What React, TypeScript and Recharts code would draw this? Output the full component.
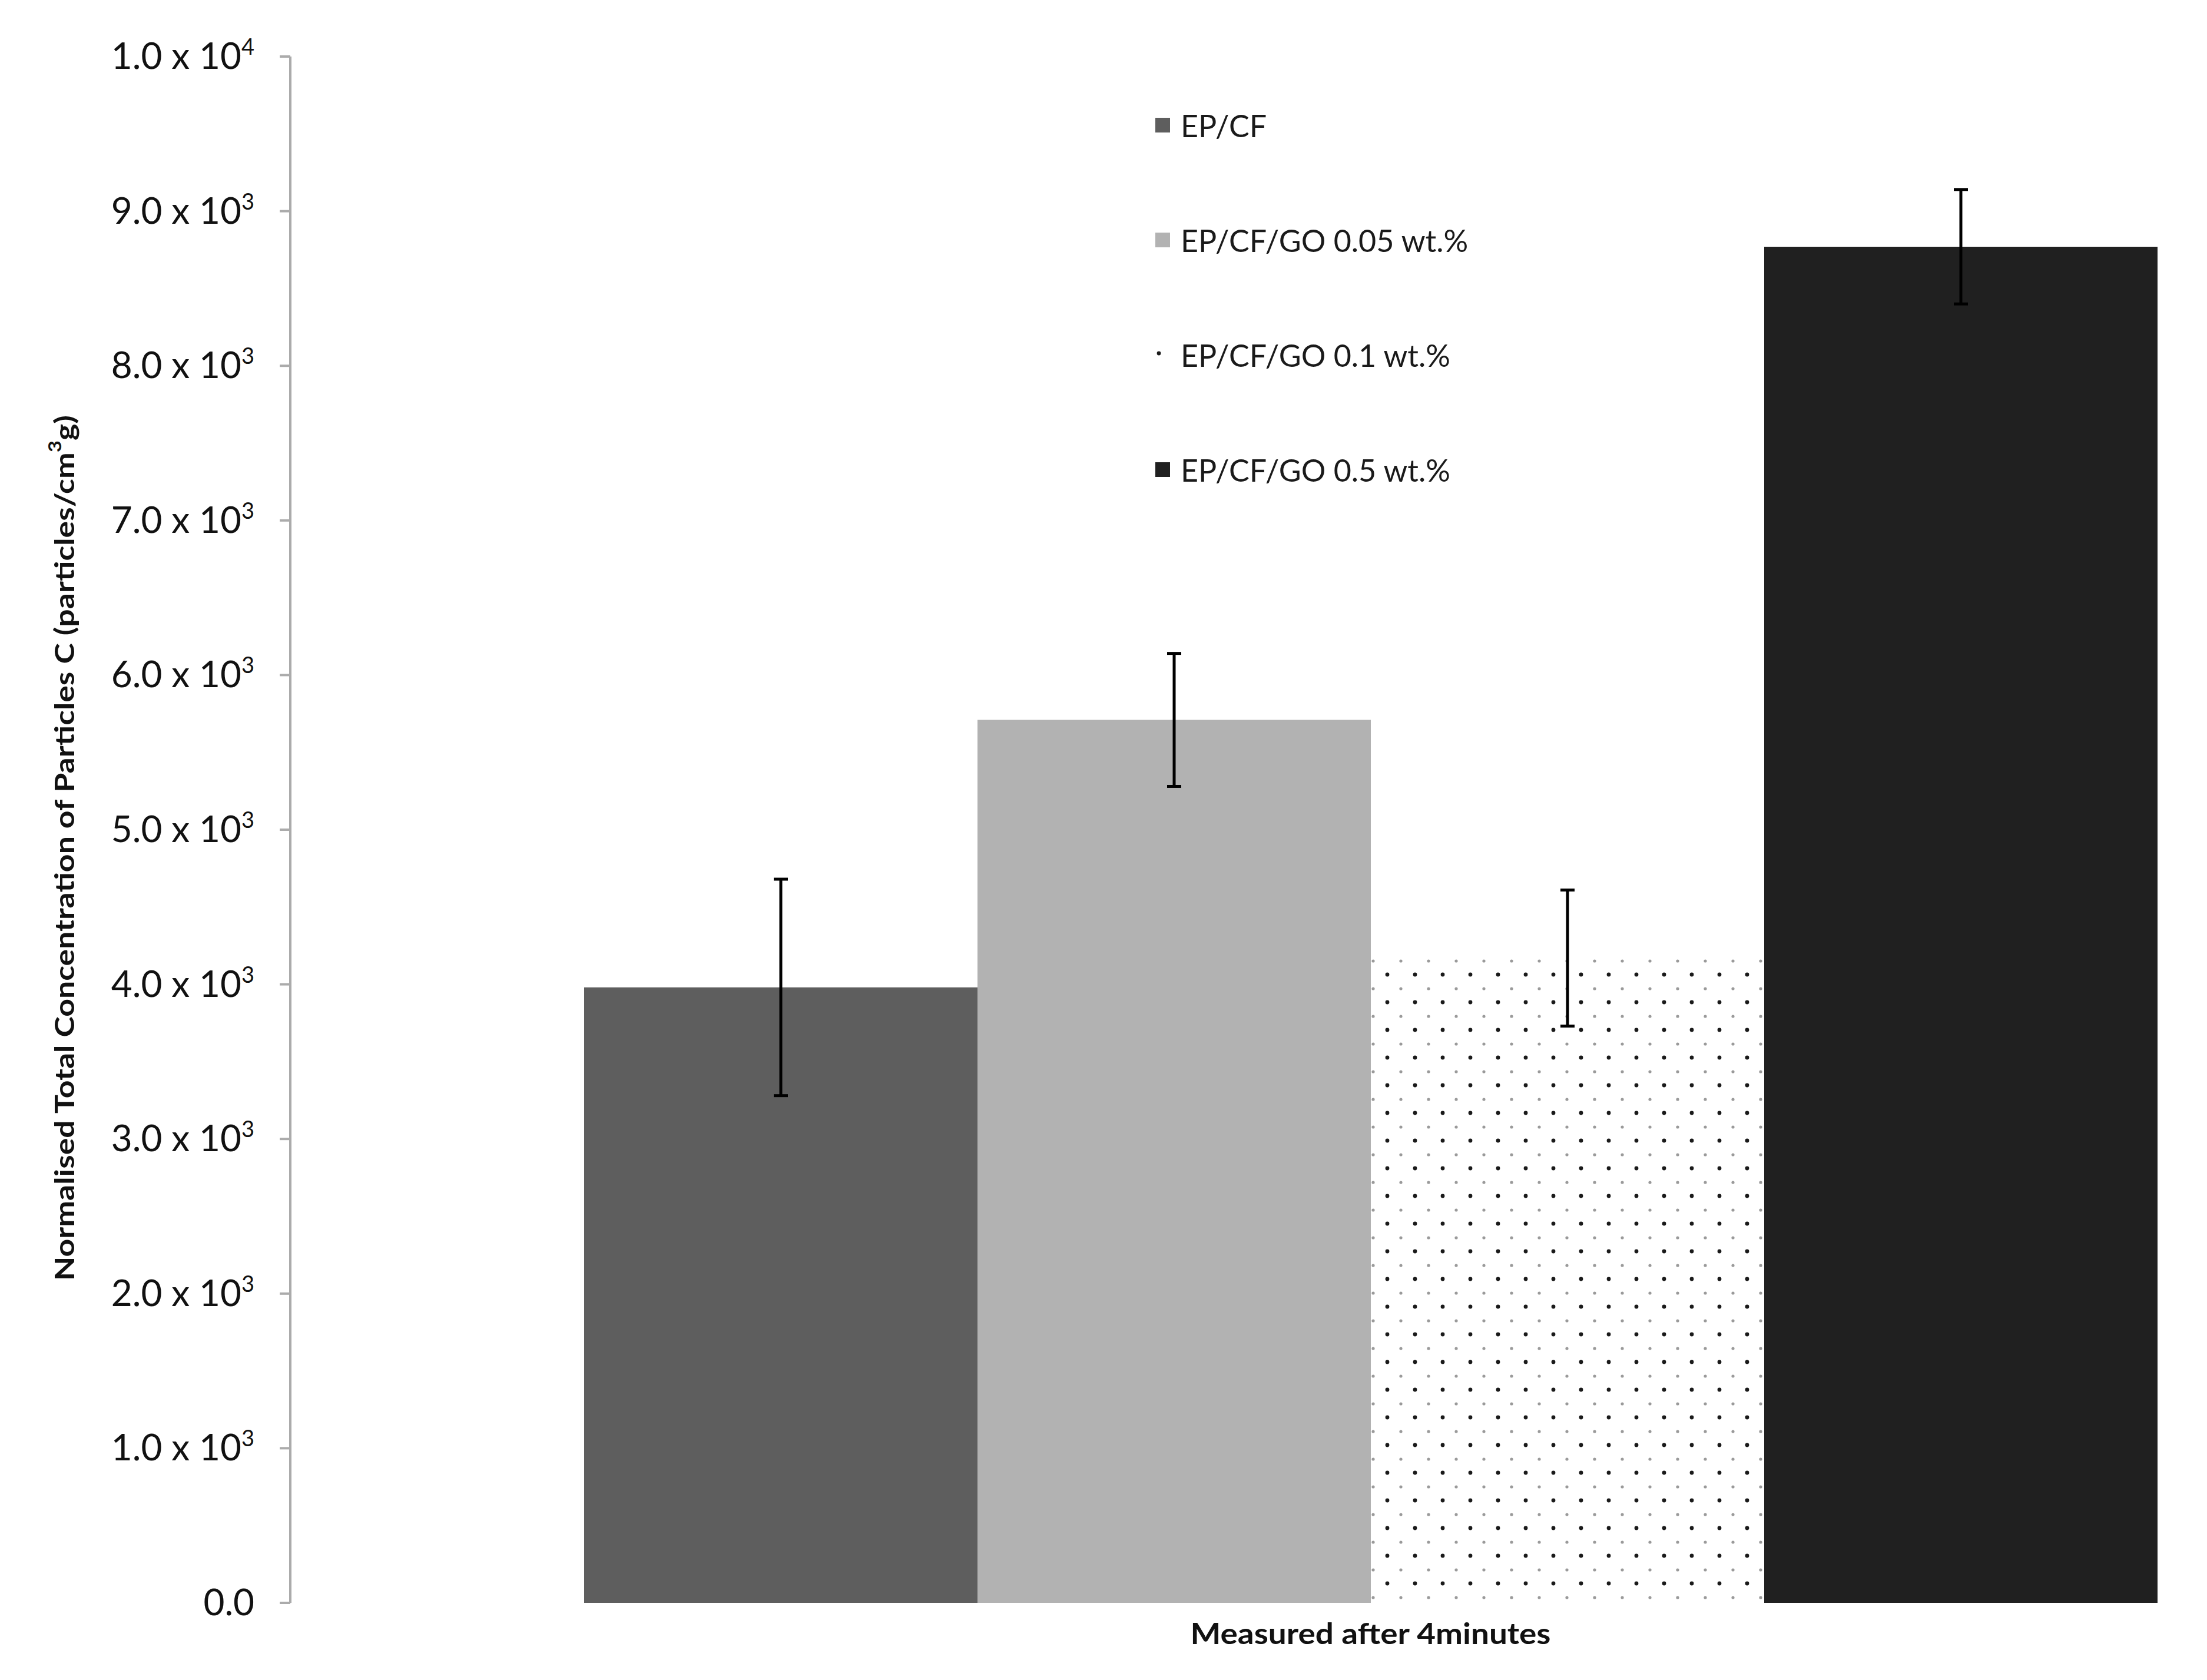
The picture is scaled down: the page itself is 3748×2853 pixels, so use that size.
import React from "react";
import { BarChart, Bar, XAxis, YAxis, ErrorBar, Legend, Label } from "recharts";

if (typeof document !== "undefined") document.body.style.margin = "0";

const categories = ["Measured after 4minutes"];
const seriesNames = ["EP/CF", "EP/CF/GO 0.05 wt.%", "EP/CF/GO 0.1 wt.%", "EP/CF/GO 0.5 wt.%"];
const seriesKeys = ["epcf", "go005", "go01", "go05"];
const meanValues = [3980, 5710, 4170, 8770];
const errorValues = [700, 430, 440, 370];
const yTicks = [0, 1000, 2000, 3000, 4000, 5000, 6000, 7000, 8000, 9000, 10000];
const fills = ["#5e5e5e", "#b2b2b2", "url(#dots)", "#202020"];

const data = categories.map((name) => {
  const row: Record<string, any> = { name };
  seriesKeys.forEach((k, i) => {
    row[k] = meanValues[i];
    row[k + "Err"] = errorValues[i];
  });
  return row;
});

const W = 3748;
const H = 2853;
const AXIS_GREY = "#ababab";

function YTick(props: any) {
  const { x, y, payload } = props;
  const v = payload.value as number;
  if (v === 0) {
    return (
      <text x={x} y={y} dy={21} textAnchor="end" fontFamily="Lato" fontSize={62} fill="#111">
        0.0
      </text>
    );
  }
  const exp = v >= 10000 ? 4 : 3;
  const mant = (v / Math.pow(10, exp)).toFixed(1);
  return (
    <text x={x} y={y} dy={21} textAnchor="end" fontFamily="Lato" fontSize={62} fill="#111">
      {`${mant} x 10`}
      <tspan dy={-24} fontSize={38}>
        {exp}
      </tspan>
    </text>
  );
}

function XTick(props: any) {
  const { x, y, payload } = props;
  return (
    <text
      x={x}
      y={y}
      dy={70}
      textAnchor="middle"
      fontFamily="Lato"
      fontWeight="bold"
      fontSize={50}
      fill="#111"
      textLength={612}
      lengthAdjust="spacingAndGlyphs"
    >
      {payload.value}
    </text>
  );
}

function YTitle() {
  const cx = 108;
  const cy = 1440;
  return (
    <text
      x={cx}
      y={cy}
      transform={`rotate(-90 ${cx} ${cy})`}
      textAnchor="middle"
      dominantBaseline="central"
      fontFamily="Lato"
      fontWeight="bold"
      fontSize={46}
      fill="#111"
      textLength={1470}
      lengthAdjust="spacingAndGlyphs"
    >
      Normalised Total Concentration of Particles C (particles/cm
      <tspan dy={-16} fontSize={30}>
        3
      </tspan>
      <tspan dy={16}>g)</tspan>
    </text>
  );
}

function LegendBox(props: any) {
  const payload = props.payload || [];
  return (
    <div>
      {payload.map((entry: any, i: number) => (
        <div key={i} style={{ display: "flex", alignItems: "center", height: 195 }}>
          <svg width={25} height={25} style={{ marginRight: 18 }}>
            <rect width={25} height={25} fill={entry.color} />
          </svg>
          <span style={{ fontFamily: "Lato", fontSize: 52, color: "#1a1a1a", whiteSpace: "nowrap" }}>
            {entry.value}
          </span>
        </div>
      ))}
    </div>
  );
}

export default function App() {
  return (
    <div style={{ width: W, height: H, background: "#fff", position: "relative" }}>
      <svg width={0} height={0} style={{ position: "absolute" }}>
        <defs>
          <pattern id="dots" patternUnits="userSpaceOnUse" width={47} height={47}>
            <rect width={47} height={47} fill="#fff" />
            <circle cx={29} cy={34} r={2.6} fill="#9a9a9a" />
            <circle cx={6} cy={10} r={3.4} fill="#1a1a1a" />
          </pattern>
        </defs>
      </svg>
      <BarChart
        width={W}
        height={H}
        data={data}
        margin={{ top: 96, right: 48, left: 10, bottom: 51 }}
        barCategoryGap={0}
        barGap={0}
      >
        <XAxis
          dataKey="name"
          axisLine={false}
          tickLine={false}
          tickSize={0}
          tickMargin={0}
          height={80}
          padding={{ left: 499, right: 37 }}
          tick={<XTick />}
        />
        <YAxis
          domain={[0, 10000]}
          ticks={yTicks}
          interval={0}
          width={483}
          axisLine={{ stroke: AXIS_GREY, strokeWidth: 4 }}
          tickLine={{ stroke: AXIS_GREY, strokeWidth: 4 }}
          tickSize={18}
          tickMargin={43}
          tick={<YTick />}
        >
          <Label content={<YTitle />} />
        </YAxis>
        <Legend
          layout="vertical"
          align="center"
          verticalAlign="middle"
          wrapperStyle={{ position: "absolute", left: 1962, top: 115, width: 900, height: 800 }}
          content={<LegendBox />}
        />
        {seriesKeys.map((k, i) => (
          <Bar key={k} dataKey={k} name={seriesNames[i]} fill={fills[i]} isAnimationActive={false}>
            <ErrorBar dataKey={k + "Err"} width={12} strokeWidth={5} stroke="#000" direction="y" />
          </Bar>
        ))}
      </BarChart>
    </div>
  );
}
